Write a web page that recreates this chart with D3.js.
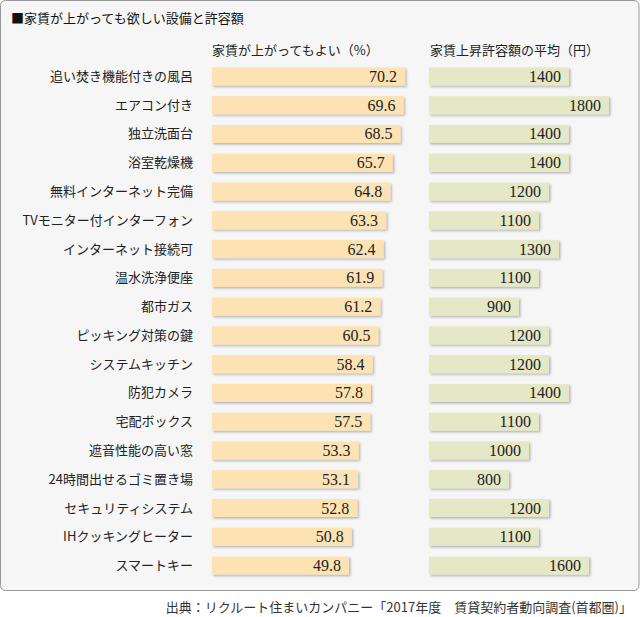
<!DOCTYPE html>
<html><head><meta charset="utf-8">
<script src="https://cdn.jsdelivr.net/npm/d3@7"></script>
<style>body{margin:0;background:#fff}svg{display:block}</style>
</head><body>
<script>
const categories = ["追い焚き機能付きの風呂","エアコン付き","独立洗面台","浴室乾燥機","無料インターネット完備","TVモニター付インターフォン","インターネット接続可","温水洗浄便座","都市ガス","ピッキング対策の鍵","システムキッチン","防犯カメラ","宅配ボックス","遮音性能の高い窓","24時間出せるゴミ置き場","セキュリティシステム","IHクッキングヒーター","スマートキー"];
const percentValues = [70.2,69.6,68.5,65.7,64.8,63.3,62.4,61.9,61.2,60.5,58.4,57.8,57.5,53.3,53.1,52.8,50.8,49.8];
const yenValues = [1400,1800,1400,1400,1200,1100,1300,1100,900,1200,1200,1400,1100,1000,800,1200,1100,1600];
const title = "■家賃が上がっても欲しい設備と許容額";
const header1 = "家賃が上がってもよい（%）";
const header2 = "家賃上昇許容額の平均（円）";
const source = "出典：リクルート住まいカンパニー「2017年度　賃貸契約者動向調査(首都圏)」";

const W = 640, H = 617;
const svg = d3.select("body").append("svg").attr("width", W).attr("height", H);
const defs = svg.append("defs");
const f = defs.append("filter").attr("id","sh").attr("x","-5%").attr("y","-30%").attr("width","115%").attr("height","180%");
f.append("feDropShadow").attr("dx",1.5).attr("dy",1.5).attr("stdDeviation",1).attr("flood-color","#000").attr("flood-opacity",0.28);

svg.append("rect").attr("x",0.5).attr("y",0.5).attr("width",638.5).attr("height",590).attr("rx",5)
  .attr("fill","#f6f6f6").attr("stroke","#999");

const sans = "'Noto Sans CJK JP', sans-serif";
const serif = "'Liberation Serif', 'DejaVu Serif', serif";

svg.append("text").attr("x",11).attr("y",23).attr("font-family",sans).attr("font-size",13).attr("fill","#111").text(title);
svg.append("text").attr("x",212).attr("y",55).attr("font-family",sans).attr("font-size",13).attr("fill","#222").text(header1);
svg.append("text").attr("x",430).attr("y",55).attr("font-family",sans).attr("font-size",13).attr("fill","#222").text(header2);

const y = d3.scaleBand().domain(categories).range([62, 580]).paddingInner(0.375).paddingOuter(0.19);
const x1 = d3.scaleLinear().domain([0, 100]).range([212, 487]);
const x2 = d3.scaleLinear().domain([0, 2000]).range([429, 629]);

const rows = svg.append("g").selectAll("g").data(categories).join("g");

rows.append("text").attr("x",193).attr("y",(d)=>y(d)+y.bandwidth()/2+4.5)
  .attr("text-anchor","end").attr("font-family",sans).attr("font-size",13).attr("fill","#222").text(d=>d);

rows.append("rect").attr("x",x1(0)).attr("y",d=>y(d)).attr("height",y.bandwidth())
  .attr("width",(d,i)=>x1(percentValues[i])-x1(0)).attr("fill","#fde3b3").attr("filter","url(#sh)");
rows.append("text").attr("x",(d,i)=>x1(percentValues[i])-8).attr("y",d=>y(d)+y.bandwidth()/2+5.5)
  .attr("text-anchor","end").attr("font-family",serif).attr("font-size",16).attr("fill","#222")
  .text((d,i)=>percentValues[i].toFixed(1));

rows.append("rect").attr("x",x2(0)).attr("y",d=>y(d)).attr("height",y.bandwidth())
  .attr("width",(d,i)=>x2(yenValues[i])-x2(0)).attr("fill","#e5e8c6").attr("filter","url(#sh)");
rows.append("text").attr("x",(d,i)=>x2(yenValues[i])-8).attr("y",d=>y(d)+y.bandwidth()/2+5.5)
  .attr("text-anchor","end").attr("font-family",serif).attr("font-size",16).attr("fill","#222")
  .text((d,i)=>yenValues[i]);

svg.append("text").attr("x",632).attr("y",612).attr("text-anchor","end").attr("font-family",sans)
  .attr("font-size",13).attr("fill","#333").text(source);
</script>
</body></html>
